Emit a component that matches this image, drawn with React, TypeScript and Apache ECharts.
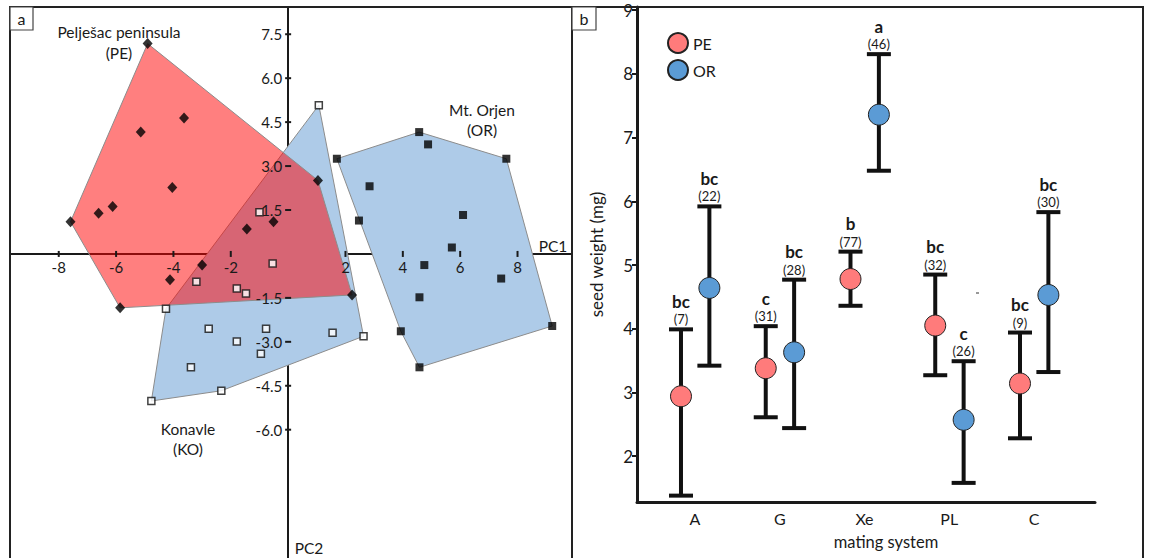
import React, { useEffect, useRef } from "react";
import * as echarts from "echarts";

const FONT = "Lato";

// Panel a: PCA scores
const PE_PTS = [[-4.90, 7.18], [-3.63, 4.64], [-5.14, 4.16], [-4.04, 2.27], [-6.12, 1.62], [-6.61, 1.39], [-7.59, 1.10], [-1.44, 0.85], [-0.51, 1.10], [-3.00, -0.38], [-4.12, -0.88], [-5.86, -1.84], [1.04, 2.51], [2.23, -1.40]];
const PE_HULL = [[-4.90, 7.18], [1.04, 2.51], [2.23, -1.40], [-5.86, -1.84], [-7.59, 1.10]];
const KO_PTS = [[1.07, 5.08], [2.63, -2.81], [1.55, -2.69], [-2.33, -4.67], [-4.77, -5.02], [-4.26, -1.87], [-3.20, -0.95], [-1.79, -1.18], [-1.47, -1.35], [-2.77, -2.55], [-0.77, -2.55], [-1.79, -2.99], [-0.95, -3.41], [-3.39, -3.87], [-1.00, 1.42], [-0.54, -0.33]];
const KO_HULL = [[1.07, 5.08], [2.63, -2.81], [-2.33, -4.67], [-4.77, -5.02], [-4.26, -1.87]];
const OR_PTS = [[1.70, 3.25], [4.57, 4.16], [4.88, 3.74], [7.61, 3.25], [2.84, 2.31], [2.47, 1.14], [6.10, 1.33], [5.71, 0.22], [4.75, -0.38], [7.43, -0.84], [4.58, -1.48], [3.93, -2.64], [4.58, -3.87], [9.21, -2.46]];
const OR_HULL = [[1.70, 3.25], [4.57, 4.16], [7.61, 3.25], [9.21, -2.46], [4.58, -3.87], [3.93, -2.64]];
const PCA_X_TICKS = [-8, -6, -4, -2, 2, 4, 6, 8];
const PCA_Y_TICKS = [-6, -4.5, -3, -1.5, 1.5, 3, 4.5, 6, 7.5];

// Panel b: seed weight by mating system
const SYSTEMS = ["A", "G", "Xe", "PL", "C"];
const PE_MEAN = [2.94, 3.38, 4.78, 4.05, 3.14];
const PE_LOW = [1.38, 2.61, 4.36, 3.27, 2.28];
const PE_HIGH = [3.99, 4.04, 5.21, 4.85, 3.94];
const PE_LETTER = ["bc", "c", "b", "bc", "bc"];
const PE_N = [7, 31, 77, 32, 9];
const OR_MEAN = [4.64, 3.63, 7.36, 2.57, 4.53];
const OR_LOW = [3.42, 2.44, 6.48, 1.58, 3.32];
const OR_HIGH = [5.92, 4.77, 8.31, 3.49, 5.83];
const OR_LETTER = ["bc", "bc", "a", "c", "bc"];
const OR_N = [22, 28, 46, 26, 30];
const SW_TICKS = [2, 3, 4, 5, 6, 7, 8, 9];

const PE_COLOR = "#ff7b7b";
const OR_COLOR = "#5b9bd5";
const INK = "#1a1a1a";

function hullSeries(hull: number[][], fill: string, z: number) {
  return {
    type: "custom",
    xAxisIndex: 0,
    yAxisIndex: 0,
    silent: true,
    clip: false,
    z,
    data: [[0, 0]],
    renderItem: (_p: any, api: any) => ({
      type: "polygon",
      shape: { points: hull.map((pt) => api.coord(pt)) },
      style: { fill, stroke: "#8c8c8c", lineWidth: 1 },
    }),
  };
}

// ticks and labels of panel a's crossing axes, placed through the axes' scales
function pcaTickSeries(dim: 0 | 1, ticks: number[]) {
  return {
    type: "custom",
    xAxisIndex: 0,
    yAxisIndex: 0,
    silent: true,
    clip: false,
    z: 6,
    data: ticks.map((v) => (dim === 0 ? [v, 0] : [0, v])),
    renderItem: (params: any, api: any) => {
      const v = ticks[params.dataIndex];
      const c = api.coord(dim === 0 ? [v, 0] : [0, v]);
      const ls = { stroke: INK, lineWidth: 2 };
      if (dim === 0) {
        return {
          type: "group",
          children: [
            { type: "line", shape: { x1: c[0], y1: c[1] - 3, x2: c[0], y2: c[1] + 3 }, style: ls },
            { type: "text", style: { text: String(v), x: c[0], y: c[1] + 13, align: "center", verticalAlign: "middle", fontFamily: FONT, fontSize: 15, fill: INK } },
          ],
        };
      }
      return {
        type: "group",
        children: [
          { type: "line", shape: { x1: c[0] - 3, y1: c[1], x2: c[0] + 3, y2: c[1] }, style: ls },
          { type: "text", style: { text: v.toFixed(1), x: c[0] - 6, y: c[1], align: "right", verticalAlign: "middle", fontFamily: FONT, fontSize: 15, fill: INK } },
        ],
      };
    },
  };
}

function errorSeries(off: number, low: number[], high: number[], letters: string[], ns: number[]) {
  return {
    type: "custom",
    xAxisIndex: 1,
    yAxisIndex: 1,
    silent: true,
    clip: false,
    z: 3,
    data: SYSTEMS.map((_, i) => [i + 1 + off, low[i], high[i]]),
    renderItem: (params: any, api: any) => {
      const i = params.dataIndex;
      const x = api.value(0);
      const lo = api.coord([x, api.value(1)]);
      const hi = api.coord([x, api.value(2)]);
      const half = 12;
      const ls = { stroke: "#111", lineWidth: 4 };
      return {
        type: "group",
        children: [
          { type: "line", shape: { x1: lo[0], y1: lo[1], x2: hi[0], y2: hi[1] }, style: ls },
          { type: "line", shape: { x1: hi[0] - half, y1: hi[1], x2: hi[0] + half, y2: hi[1] }, style: ls },
          { type: "line", shape: { x1: lo[0] - half, y1: lo[1], x2: lo[0] + half, y2: lo[1] }, style: ls },
          {
            type: "text",
            style: { text: letters[i], x: hi[0], y: hi[1] - 28, align: "center", verticalAlign: "middle", fontFamily: FONT, fontWeight: "bold", fontSize: 17, fill: INK },
          },
          {
            type: "text",
            style: { text: "(" + ns[i] + ")", x: hi[0], y: hi[1] - 10, align: "center", verticalAlign: "middle", fontFamily: FONT, fontSize: 13, fill: INK },
          },
        ],
      };
    },
  };
}

function meanSeries(name: string, off: number, mean: number[], color: string) {
  return {
    type: "scatter",
    name,
    xAxisIndex: 1,
    yAxisIndex: 1,
    z: 4,
    symbol: "circle",
    symbolSize: 21,
    itemStyle: { color, borderColor: "#222", borderWidth: 1, opacity: 1 },
    data: SYSTEMS.map((_, i) => [i + 1 + off, mean[i]]),
  };
}

function txt(text: string, x: number, y: number, size = 15, extra: any = {}) {
  return {
    type: "text",
    z: 20,
    style: { text, x, y, align: "center", verticalAlign: "middle", fontFamily: FONT, fontSize: size, fill: INK, ...extra },
  };
}

export default function App() {
  const ref = useRef<HTMLDivElement>(null);
  useEffect(() => {
    if (!ref.current) return;
    const chart = echarts.init(ref.current, undefined, { renderer: "svg" });
    const axisLab = { fontFamily: FONT, fontSize: 15, color: INK };
    chart.setOption({
      animation: false,
      backgroundColor: "#ffffff",
      textStyle: { fontFamily: FONT },
      legend: {
        data: ["PE", "OR"],
        orient: "vertical",
        left: 667,
        top: 32,
        padding: 0,
        itemWidth: 20,
        itemHeight: 20,
        itemGap: 5,
        icon: "circle",
        textStyle: { fontFamily: FONT, fontSize: 16, color: INK, lineHeight: 20 },
        selectedMode: false,
      },
      grid: [
        { left: 10, top: 7, width: 562, height: 551, outerBoundsMode: "none", containLabel: false },
        { left: 637, top: 7, width: 458, height: 495, outerBoundsMode: "none", containLabel: false },
      ],
      xAxis: [
        {
          type: "value",
          gridIndex: 0,
          min: -9.7,
          max: 9.9,
          axisLine: { onZero: true, lineStyle: { color: INK, width: 2 } },
          axisTick: { show: false },
          axisLabel: { show: false },
          splitLine: { show: false },
        },
        {
          type: "value",
          gridIndex: 1,
          min: 0.316,
          max: 5.72,
          axisLine: { onZero: false, lineStyle: { color: INK, width: 3 } },
          axisTick: { show: false },
          axisLabel: { ...axisLab, fontSize: 16, customValues: [1, 2, 3, 4, 5], margin: 8, formatter: (v: number) => SYSTEMS[Math.round(v) - 1] || "" },
          splitLine: { show: false },
        },
      ],
      yAxis: [
        {
          type: "value",
          gridIndex: 0,
          min: -10.38,
          max: 8.43,
          axisLine: { onZero: true, lineStyle: { color: INK, width: 2 } },
          axisTick: { show: false },
          axisLabel: { show: false },
          splitLine: { show: false },
        },
        {
          type: "value",
          gridIndex: 1,
          min: 1.28,
          max: 9.05,
          name: "seed weight (mg)",
          nameLocation: "middle",
          nameGap: 32,
          nameTextStyle: { fontFamily: FONT, fontSize: 17, color: INK },
          axisLine: { onZero: false, lineStyle: { color: INK, width: 3 } },
          axisTick: { show: true, customValues: SW_TICKS, length: 5, lineStyle: { color: INK, width: 2 } },
          axisLabel: { ...axisLab, fontSize: 17, customValues: SW_TICKS, margin: 4 },
          splitLine: { show: false },
        },
      ],
      series: [
        hullSeries(OR_HULL, "#aecbe8", 1),
        hullSeries(KO_HULL, "#aecbe8", 1),
        hullSeries(PE_HULL, "rgba(255,0,0,0.5)", 2),
        pcaTickSeries(0, PCA_X_TICKS),
        pcaTickSeries(1, PCA_Y_TICKS),
        {
          type: "scatter", name: "PE samples", xAxisIndex: 0, yAxisIndex: 0, z: 7,
          symbol: "diamond", symbolSize: [10, 11], itemStyle: { color: "#000" }, data: PE_PTS,
        },
        {
          type: "scatter", name: "KO samples", xAxisIndex: 0, yAxisIndex: 0, z: 7,
          symbol: "rect", symbolSize: 7, itemStyle: { color: "#fff", borderColor: "#111", borderWidth: 1.5 }, data: KO_PTS,
        },
        {
          type: "scatter", name: "OR samples", xAxisIndex: 0, yAxisIndex: 0, z: 7,
          symbol: "rect", symbolSize: 8, itemStyle: { color: "#000" }, data: OR_PTS,
        },
        errorSeries(-0.165, PE_LOW, PE_HIGH, PE_LETTER, PE_N),
        errorSeries(0.17, OR_LOW, OR_HIGH, OR_LETTER, OR_N),
        meanSeries("PE", -0.165, PE_MEAN, PE_COLOR),
        meanSeries("OR", 0.17, OR_MEAN, OR_COLOR),
      ],
      graphic: [
        { type: "rect", z: 15, shape: { x: 10, y: 7, width: 562, height: 560 }, style: { fill: "none", stroke: "#222", lineWidth: 2 } },
        { type: "rect", z: 15, shape: { x: 572, y: 7, width: 571, height: 560 }, style: { fill: "none", stroke: "#222", lineWidth: 2 } },
        { type: "rect", z: 16, shape: { x: 10, y: 7, width: 23, height: 23 }, style: { fill: "#fff", stroke: "#444", lineWidth: 1.2 } },
        { type: "rect", z: 16, shape: { x: 572, y: 7, width: 24, height: 23 }, style: { fill: "#fff", stroke: "#444", lineWidth: 1.2 } },
        txt("a", 21.5, 18, 16),
        txt("b", 584, 18, 16),
        txt("Pelješac peninsula", 119, 32, 15.5),
        txt("(PE)", 119, 53, 15.5),
        txt("Mt. Orjen", 482, 110, 15.5),
        txt("(OR)", 482, 130, 15.5),
        txt("Konavle", 188, 429, 15.5),
        txt("(KO)", 188, 449, 15.5),
        txt("PC1", 553, 246, 15.5),
        txt("PC2", 309, 548, 15.5),
        txt("mating system", 886, 542, 16.5),
        { type: "line", z: 20, shape: { x1: 976, y1: 293, x2: 979, y2: 293 }, style: { stroke: "#333", lineWidth: 1 } },
      ],
    });
    return () => chart.dispose();
  }, []);
  return <div ref={ref} style={{ position: "fixed", left: 0, top: 0, width: 1153, height: 558 }} />;
}
